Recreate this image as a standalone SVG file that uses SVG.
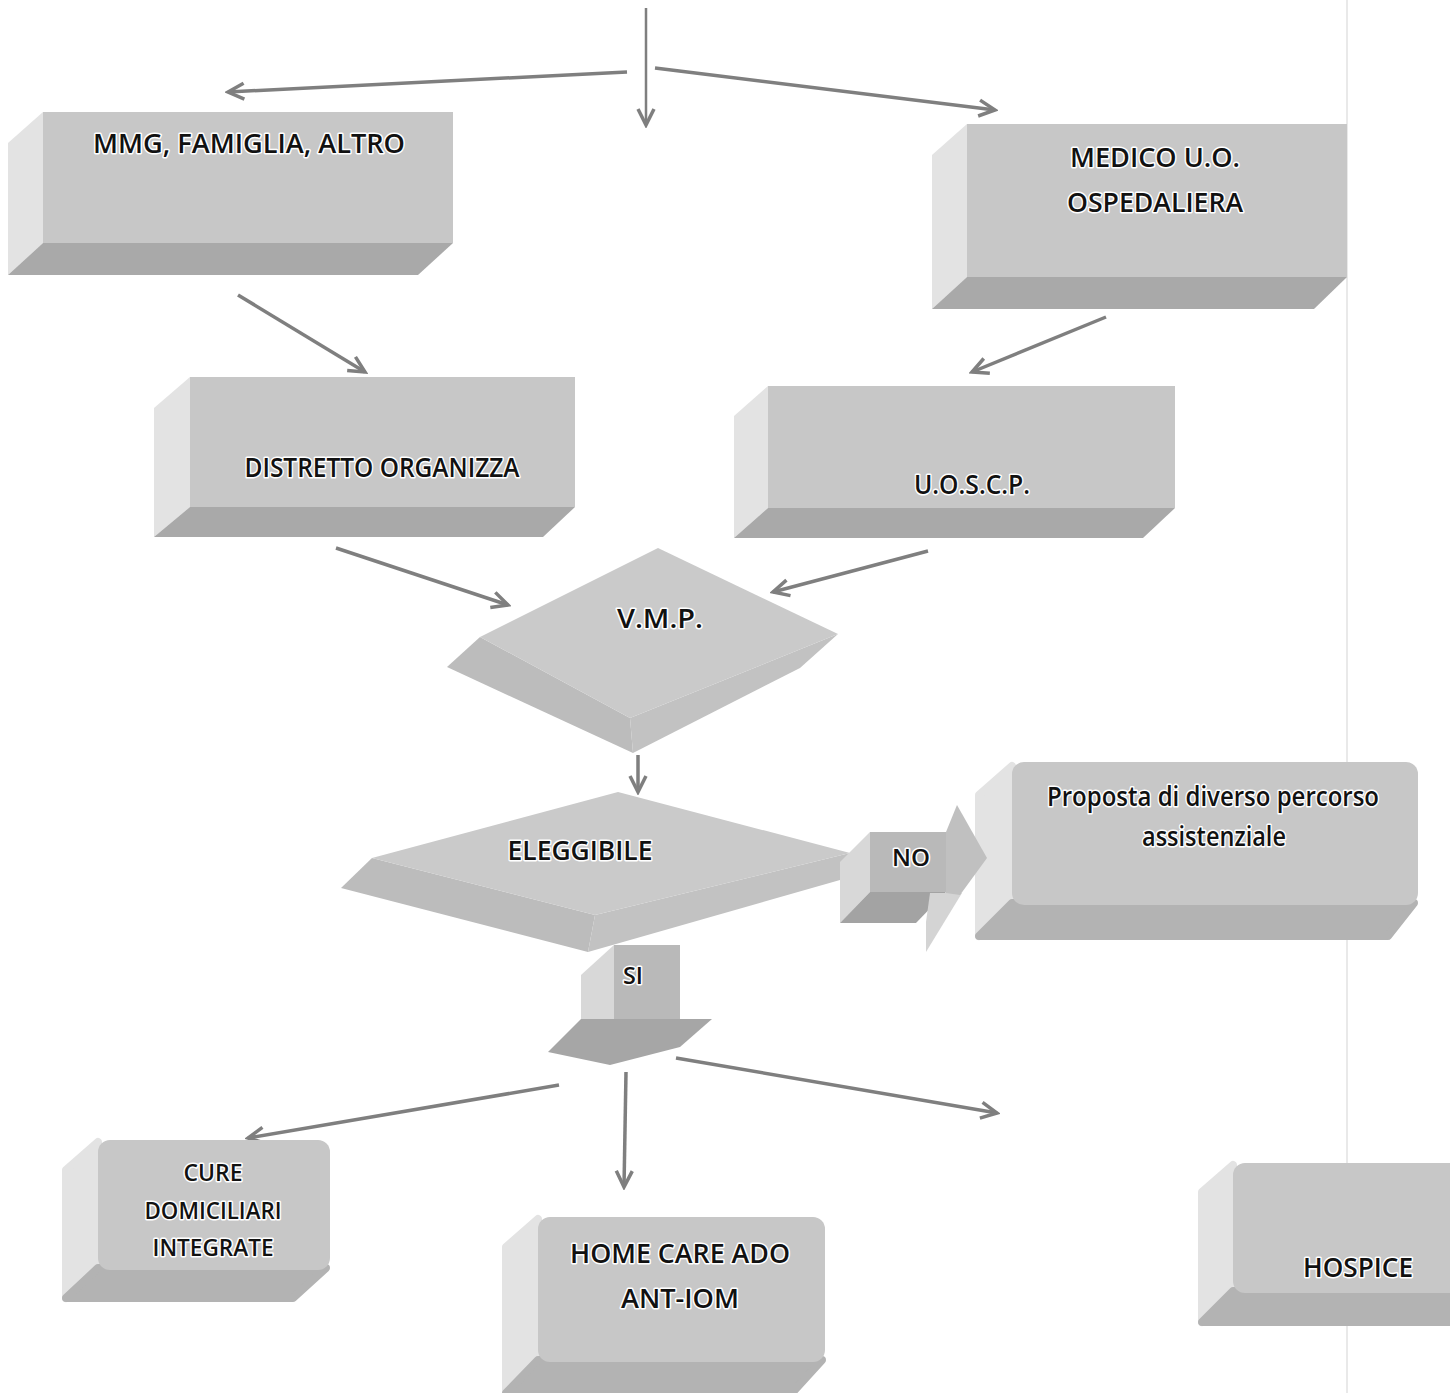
<svg xmlns="http://www.w3.org/2000/svg" width="1450" height="1393" viewBox="0 0 1450 1393">
<style>
.front{fill:#c7c7c7}
.side{fill:#e3e3e3}
.bottom{fill:#a9a9a9}
.bottom2{fill:#b3b3b3}
.rnd{stroke-linejoin:round;stroke-width:8}
.t{font-family:"Open Sans","Liberation Sans",sans-serif;font-size:27px;font-weight:600;fill:#111111;stroke:#ffffff;stroke-width:3px;paint-order:stroke;text-anchor:middle;stroke-linejoin:round}
.ts{font-size:23px}
.conn{stroke:#7f7f7f;stroke-width:3.5;fill:none;marker-end:url(#ah)}
</style>
<defs>
<marker id="ah" viewBox="0 0 22 22" refX="19" refY="11" markerWidth="22" markerHeight="22" markerUnits="userSpaceOnUse" orient="auto">
<path d="M3,3 L19,11 L3,19" fill="none" stroke="#7f7f7f" stroke-width="3.5" stroke-linejoin="miter"/>
</marker>
</defs>
<rect width="1450" height="1393" fill="#ffffff"/>
<line x1="1347" y1="0" x2="1347" y2="1393" stroke="#e2e2e2" stroke-width="1.5"/>

<g id="connectors">
<path class="conn" style="stroke-width:2.5" d="M646,8 L646,125"/>
<path class="conn" d="M627,72 L228,92"/>
<path class="conn" d="M655,68 L995,110"/>
<path class="conn" d="M238,295 L365,372"/>
<path class="conn" d="M1106,317 L972,372"/>
<path class="conn" d="M336,548 L508,605"/>
<path class="conn" d="M928,551 L773,592"/>
<path class="conn" d="M638,755 L638,792"/>
<path class="conn" d="M559,1085 L248,1138"/>
<path class="conn" d="M626,1072 L624,1187"/>
<path class="conn" d="M676,1058 L997,1113"/>
</g>

<g id="n-mmg">
<polygon class="side" points="8,143 43,112 43,243 8,275"/>
<rect class="front" x="43" y="112" width="410" height="131"/>
<polygon class="bottom" points="43,243 453,243 418,275 8,275"/>
<text class="t" x="249" y="153" textLength="312" lengthAdjust="spacingAndGlyphs">MMG, FAMIGLIA, ALTRO</text>
</g>

<g id="n-medico">
<polygon class="side" points="932,155 967,124 967,277 932,309"/>
<rect class="front" x="967" y="124" width="380" height="153"/>
<polygon class="bottom" points="967,277 1347,277 1314,309 932,309"/>
<text class="t" x="1155" y="167" textLength="170" lengthAdjust="spacingAndGlyphs">MEDICO U.O.</text>
<text class="t" x="1155" y="212" textLength="176" lengthAdjust="spacingAndGlyphs">OSPEDALIERA</text>
</g>

<g id="n-distretto">
<polygon class="side" points="154,408 190,377 190,507 154,537"/>
<rect class="front" x="190" y="377" width="385" height="130"/>
<polygon class="bottom" points="190,507 575,507 543,537 154,537"/>
<text class="t" x="382" y="477" textLength="275" lengthAdjust="spacingAndGlyphs">DISTRETTO ORGANIZZA</text>
</g>

<g id="n-uoscp">
<polygon class="side" points="734,416 768,386 768,508 734,538"/>
<rect class="front" x="768" y="386" width="407" height="122"/>
<polygon class="bottom" points="768,508 1175,508 1143,538 734,538"/>
<text class="t" x="972" y="494" textLength="116" lengthAdjust="spacingAndGlyphs">U.O.S.C.P.</text>
</g>

<g id="n-vmp">
<polygon fill="#bcbcbc" points="480,637 630,718 633,753 447,667"/>
<polygon fill="#c2c2c2" points="630,718 838,634 800,668 633,753"/>
<polygon fill="#cacaca" points="658,548 838,634 630,718 480,637"/>
<text class="t" x="660" y="628" textLength="86" lengthAdjust="spacingAndGlyphs">V.M.P.</text>
</g>

<g id="n-eleggibile">
<polygon fill="#bcbcbc" points="372,858 595,915 588,952 341,888"/>
<polygon fill="#c2c2c2" points="595,915 850,853 840,880 588,952"/>
<polygon fill="#cacaca" points="618,792 850,853 595,915 372,858"/>
<text class="t" x="580" y="860" textLength="145" lengthAdjust="spacingAndGlyphs">ELEGGIBILE</text>
</g>

<g id="n-proposta">
<polygon class="side rnd" style="stroke:#e3e3e3" points="979,795 1012,766 1012,905 979,936"/>
<polygon class="bottom2 rnd" style="stroke:#b3b3b3" points="1012,903 1414,903 1388,936 979,936"/>
<rect class="front" x="1012" y="762" width="406" height="143" rx="12"/>
<text class="t" x="1213" y="806" textLength="332" lengthAdjust="spacingAndGlyphs">Proposta di diverso percorso</text>
<text class="t" x="1214" y="846" textLength="144" lengthAdjust="spacingAndGlyphs">assistenziale</text>
</g>

<g id="n-no">
<polygon fill="#d8d8d8" points="870,832 870,892 840,923 840,862"/>
<rect fill="#b9b9b9" x="870" y="832" width="76" height="60"/>
<polygon fill="#a3a3a3" points="870,892 946,892 916,923 840,923"/>
<polygon fill="#d4d4d4" points="930,893 962,893 926,952 926,922"/>
<polygon fill="#c0c0c0" points="946,832 957,805 987,858 960,895 946,893"/>
<text class="t ts" x="911" y="866" textLength="38" lengthAdjust="spacingAndGlyphs">NO</text>
</g>

<g id="n-si">
<polygon fill="#d8d8d8" points="614,945 614,1020 581,1020 581,975"/>
<rect fill="#b9b9b9" x="614" y="945" width="66" height="75"/>
<polygon fill="#a6a6a6" points="581,1019 712,1019 680,1047 610,1065 548,1052"/>
<text class="t ts" x="633" y="984" textLength="20" lengthAdjust="spacingAndGlyphs">SI</text>
</g>

<g id="n-cure">
<polygon class="side rnd" style="stroke:#e3e3e3" points="66,1170 98,1142 98,1270 66,1298"/>
<polygon class="bottom2 rnd" style="stroke:#b3b3b3" points="98,1268 326,1268 293,1298 66,1298"/>
<rect class="front" x="98" y="1140" width="232" height="130" rx="12"/>
<text class="t ts" x="213" y="1181" textLength="59" lengthAdjust="spacingAndGlyphs">CURE</text>
<text class="t ts" x="213" y="1219" textLength="137" lengthAdjust="spacingAndGlyphs">DOMICILIARI</text>
<text class="t ts" x="213" y="1256" textLength="121" lengthAdjust="spacingAndGlyphs">INTEGRATE</text>
</g>

<g id="n-home">
<polygon class="side rnd" style="stroke:#e3e3e3" points="506,1247 538,1219 538,1362 506,1393"/>
<polygon class="bottom2 rnd" style="stroke:#b3b3b3" points="538,1360 822,1360 792,1393 506,1393"/>
<rect class="front" x="538" y="1217" width="287" height="145" rx="12"/>
<text class="t" x="680" y="1263" textLength="220" lengthAdjust="spacingAndGlyphs">HOME CARE ADO</text>
<text class="t" x="680" y="1308" textLength="118" lengthAdjust="spacingAndGlyphs">ANT-IOM</text>
</g>

<g id="n-hospice">
<polygon class="side rnd" style="stroke:#e3e3e3" points="1202,1192 1233,1165 1233,1293 1202,1322"/>
<polygon class="bottom2 rnd" style="stroke:#b3b3b3" points="1233,1291 1454,1291 1454,1322 1202,1322"/>
<rect class="front" x="1233" y="1163" width="230" height="130" rx="12"/>
<text class="t" x="1358" y="1277" textLength="110" lengthAdjust="spacingAndGlyphs">HOSPICE</text>
</g>
</svg>
